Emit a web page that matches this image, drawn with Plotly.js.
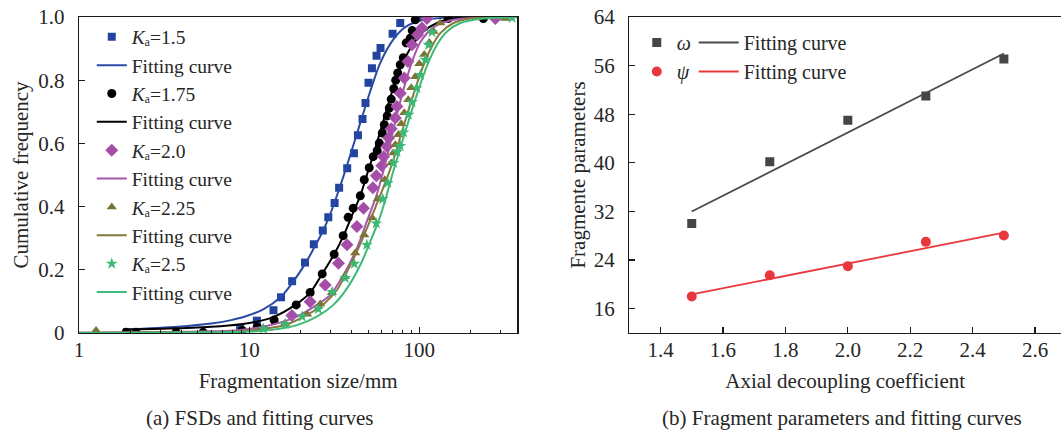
<!DOCTYPE html>
<html><head><meta charset="utf-8">
<script src="https://cdn.plot.ly/plotly-3.0.1.min.js"></script>
<style>html,body{margin:0;padding:0;background:#fff}#chart{width:1061px;height:432px}</style>
</head><body><div id="chart"></div>
<script>
// ---------- Panel (a): FSDs ----------
const ka15X = [8.85, 11.1, 13.9, 15.4, 17.9, 21.3, 24.0, 27.1, 29.2, 31.8, 33.8, 37.7, 41.3, 43.6, 46.4, 48.3, 50.3, 52.7, 56.1, 59.2, 69.7, 77.3, 101];
const ka15Y = [0.016, 0.039, 0.072, 0.113, 0.164, 0.223, 0.281, 0.324, 0.366, 0.411, 0.460, 0.521, 0.569, 0.626, 0.677, 0.728, 0.792, 0.838, 0.877, 0.902, 0.947, 0.981, 1.0];
const fit15X = [1.815, 3.82, 5.98, 7.73, 9.47, 12.1, 15.4, 17.9, 21.3, 24.0, 27.1, 29.9, 33.8, 37.6, 45.0, 51.5, 59.0, 70.6, 82.7, 106, 145.5, 199.5, 377];
const fit15Y = [0.011, 0.020, 0.030, 0.040, 0.052, 0.075, 0.115, 0.158, 0.218, 0.268, 0.322, 0.375, 0.455, 0.530, 0.665, 0.765, 0.855, 0.930, 0.968, 0.991, 0.998, 1.0, 1.0];

const ka175X = [1.89, 2.164, 3.721, 5.363, 9.10, 11.15, 14.03, 18.9, 22.85, 26.88, 31.6, 35.7, 38.2, 40.9, 45.0, 47.5, 50.8, 53.6, 56.6, 58.2, 60.6, 62.3, 64.8, 66.6, 68.4, 70.8, 72.7, 74.7, 77.3, 80.5, 83.8, 88.5, 90.9, 94.7, 148, 238];
const ka175Y = [0.002, 0.002, 0.002, 0.002, 0.008, 0.019, 0.041, 0.089, 0.128, 0.187, 0.249, 0.308, 0.366, 0.395, 0.434, 0.485, 0.523, 0.558, 0.577, 0.601, 0.633, 0.659, 0.687, 0.712, 0.740, 0.773, 0.800, 0.823, 0.849, 0.871, 0.918, 0.933, 0.957, 0.991, 0.995, 0.995];
const fit175X = [1.815, 3.43, 5.98, 8.97, 11.1, 14.09, 18.65, 22.85, 26.88, 31.6, 35.9, 41.1, 45.0, 49.2, 53.6, 56.6, 59.0, 73.9, 88.5, 106, 127, 159, 191, 377];
const fit175Y = [0.011, 0.014, 0.020, 0.028, 0.036, 0.052, 0.089, 0.128, 0.187, 0.249, 0.308, 0.384, 0.434, 0.500, 0.562, 0.605, 0.638, 0.810, 0.900, 0.954, 0.981, 0.995, 0.999, 1.0];

const ka20X = [17.83, 22.85, 28.0, 33.5, 37.6, 43.0, 47.0, 53.4, 55.9, 60.2, 61.7, 64.6, 66.0, 68.4, 72.3, 73.9, 77.3, 81.6, 85.8, 90.6, 97.7, 103.7, 111, 280];
const ka20Y = [0.055, 0.099, 0.152, 0.221, 0.279, 0.337, 0.395, 0.460, 0.498, 0.529, 0.558, 0.590, 0.617, 0.646, 0.680, 0.717, 0.759, 0.807, 0.859, 0.912, 0.944, 0.965, 0.995, 0.995];
const fit20X = [1.0, 2.617, 5.15, 7.73, 12.14, 19.08, 25.0, 29.96, 35.9, 43.0, 49.2, 56.4, 61.7, 67.5, 74.2, 82.7, 90.9, 101.4, 121.4, 145.5, 182, 228.5, 377];
const fit20Y = [0.001, 0.002, 0.005, 0.007, 0.020, 0.052, 0.089, 0.120, 0.184, 0.268, 0.353, 0.440, 0.515, 0.600, 0.695, 0.790, 0.860, 0.920, 0.968, 0.986, 0.995, 0.997, 1.0];

const ka225X = [1.259, 12.09, 16.28, 21.93, 26.16, 30.65, 36.5, 42.0, 47.5, 52.9, 57.0, 62.7, 68.4, 70.3, 72.3, 75.2, 78.4, 81.6, 86.2, 89.7, 94.7, 100, 107, 114.5, 121.4, 132.9, 320.5];
const ka225Y = [0.008, 0.015, 0.030, 0.059, 0.092, 0.127, 0.178, 0.253, 0.310, 0.364, 0.424, 0.485, 0.538, 0.570, 0.596, 0.627, 0.662, 0.697, 0.738, 0.776, 0.811, 0.852, 0.881, 0.919, 0.954, 0.981, 0.995];
const fit225X = [1.0, 2.617, 5.15, 7.73, 12.14, 16.67, 21.85, 27.36, 32.8, 37.6, 43.0, 49.2, 56.4, 64.6, 70.6, 84.7, 101.4, 116.1, 132.9, 159, 199.5, 261.6, 377];
const fit225Y = [0.001, 0.002, 0.003, 0.004, 0.013, 0.027, 0.057, 0.091, 0.136, 0.194, 0.258, 0.331, 0.410, 0.490, 0.550, 0.690, 0.820, 0.897, 0.949, 0.981, 0.995, 0.999, 1.0];

const ka25X = [12.14, 16.28, 20.5, 25.5, 30.8, 36.7, 41.5, 49.2, 55.9, 61.0, 65.3, 70.6, 73.9, 77.3, 80.8, 86.5, 90.6, 96.9, 101.4, 108.5, 113.4, 118.8, 351];
const ka25Y = [0.013, 0.028, 0.052, 0.076, 0.130, 0.174, 0.219, 0.279, 0.347, 0.424, 0.475, 0.538, 0.573, 0.592, 0.635, 0.691, 0.730, 0.775, 0.817, 0.865, 0.912, 0.952, 0.997];
const fit25X = [1.0, 2.617, 5.15, 7.73, 12.14, 19.08, 25.0, 31.3, 37.6, 45.0, 51.5, 59.0, 64.6, 70.6, 84.7, 96.9, 111, 127, 145.5, 174.3, 208.7, 261.6, 377];
const fit25Y = [0.0, 0.001, 0.002, 0.003, 0.007, 0.025, 0.052, 0.089, 0.141, 0.215, 0.289, 0.370, 0.440, 0.515, 0.655, 0.755, 0.845, 0.912, 0.954, 0.981, 0.991, 0.997, 0.999];

const seriesNames = ['<i>K</i>ₐ=1.5', '<i>K</i>ₐ=1.75', '<i>K</i>ₐ=2.0', '<i>K</i>ₐ=2.25', '<i>K</i>ₐ=2.5'];
const xTickVals = [1, 10, 100];
const xTickText = ['1', '10', '100'];
const xMinorVals = [2,3,4,5,6,7,8,9,20,30,40,50,60,70,80,90,200,300];
const yTickVals = [0, 0.2, 0.4, 0.6, 0.8, 1.0];
const yTickText = ['0', '0.2', '0.4', '0.6', '0.8', '1.0'];

// ---------- Panel (b): fragment parameters ----------
const coef = [1.5, 1.75, 2.0, 2.25, 2.5];
const omega = [30.0, 40.2, 47.0, 51.0, 57.1];
const psi = [18.0, 21.5, 23.0, 27.0, 28.05];
const fitCoef = [1.5, 2.5];
const omegaFit = [32.0, 58.0];
const psiFit = [18.35, 28.5];
const x2TickVals = [1.4, 1.6, 1.8, 2.0, 2.2, 2.4, 2.6];
const x2TickText = ['1.4', '1.6', '1.8', '2.0', '2.2', '2.4', '2.6'];
const y2TickVals = [16, 24, 32, 40, 48, 56, 64];

const FONT = 'Liberation Serif, Times New Roman, serif';
const TXT = '#262626';
const AX = '#1a1a1a';

function pts(x, y, name, sym, size, color) {
  return {x, y, name, type: 'scatter', mode: 'markers', xaxis: 'x', yaxis: 'y',
    marker: {symbol: sym, size, color, line: {width: 0}}, legend: 'legend'};
}
function fit(x, y, color) {
  return {x, y, name: 'Fitting curve', type: 'scatter', mode: 'lines', xaxis: 'x', yaxis: 'y',
    line: {color, width: 2, shape: 'spline', smoothing: 0.8}, legend: 'legend'};
}
const cBlue = '#2a4ba3', cMag = '#aa55ad', cOl = '#837a3c', cGr = '#3dba78';
const data = [
  pts(ka15X, ka15Y, seriesNames[0], 'square', 8, '#22449f'),
  fit(fit15X, fit15Y, cBlue),
  pts(ka175X, ka175Y, seriesNames[1], 'circle', 9, '#000000'),
  fit(fit175X, fit175Y, '#000000'),
  pts(ka20X, ka20Y, seriesNames[2], 'diamond', 10, '#a54ea8'),
  fit(fit20X, fit20Y, cMag),
  pts(ka225X, ka225Y, seriesNames[3], 'triangle-up', 9, '#7b7334'),
  fit(fit225X, fit225Y, cOl),
  pts(ka25X, ka25Y, seriesNames[4], 'star', 9, '#3cb875'),
  fit(fit25X, fit25Y, cGr),
  {x: coef, y: omega, name: '<i>ω</i>', type: 'scatter', mode: 'markers', xaxis: 'x2', yaxis: 'y2',
    marker: {symbol: 'square', size: 9, color: '#454545'}, legend: 'legend2'},
  {x: coef, y: psi, name: '<i>ψ</i>', type: 'scatter', mode: 'markers', xaxis: 'x2', yaxis: 'y2',
    marker: {symbol: 'circle', size: 10, color: '#e8383d'}, legend: 'legend2'},
  {x: fitCoef, y: omegaFit, name: 'Fitting curve', type: 'scatter', mode: 'lines', xaxis: 'x2', yaxis: 'y2',
    line: {color: '#4a4a4a', width: 1.8}, legend: 'legend3'},
  {x: fitCoef, y: psiFit, name: 'Fitting curve', type: 'scatter', mode: 'lines', xaxis: 'x2', yaxis: 'y2',
    line: {color: '#e8383d', width: 1.8}, legend: 'legend3'}
];

const axisBase = {showline: true, linecolor: AX, linewidth: 1.3, ticks: 'inside', ticklen: 6, tickwidth: 1.2,
  tickcolor: AX, showgrid: false, zeroline: false, tickfont: {size: 21, color: TXT, family: FONT}, automargin: false};

const legendBase = {bgcolor: 'rgba(0,0,0,0)', borderwidth: 0, font: {size: 20, color: TXT, family: FONT},
  xanchor: 'left', yanchor: 'top', tracegroupgap: 0, itemclick: false, itemdoubleclick: false};

const layout = {
  width: 1061, height: 432,
  margin: {l: 79, r: 0, t: 17, b: 99},
  paper_bgcolor: '#ffffff', plot_bgcolor: '#ffffff',
  font: {family: FONT, size: 21, color: TXT},
  showlegend: true,
  xaxis: Object.assign({}, axisBase, {
    type: 'log', domain: [0, 0.4463], range: [0, 2.576], anchor: 'y', mirror: true,
    tickmode: 'array', tickvals: xTickVals, ticktext: xTickText, ticklabelstandoff: -3,
    minor: {tickmode: 'array', tickvals: xMinorVals, ticks: 'inside', ticklen: 3.5, tickwidth: 1, tickcolor: AX, showgrid: false},
    title: {text: 'Fragmentation size/mm', standoff: 12, font: {size: 21, color: TXT, family: FONT}}
  }),
  yaxis: Object.assign({}, axisBase, {
    domain: [0, 1], range: [0, 1], anchor: 'x', mirror: true,
    tickmode: 'array', tickvals: yTickVals, ticktext: yTickText, ticklabelstandoff: 9,
    title: {text: 'Cumulative frequency', standoff: 4, font: {size: 21, color: TXT, family: FONT}}
  }),
  xaxis2: Object.assign({}, axisBase, {
    domain: [0.5604, 1], range: [1.3, 2.683], anchor: 'y2', mirror: true,
    tickmode: 'array', tickvals: x2TickVals, ticktext: x2TickText, ticklabelstandoff: -3,
    title: {text: 'Axial decoupling coefficient', standoff: 12, font: {size: 21, color: TXT, family: FONT}}
  }),
  yaxis2: Object.assign({}, axisBase, {
    domain: [0, 1], range: [12, 64], anchor: 'x2', mirror: false,
    tickmode: 'array', tickvals: y2TickVals, ticklabelstandoff: 9,
    title: {text: 'Fragmente parameters', standoff: 2, font: {size: 21, color: TXT, family: FONT}}
  }),
  legend: Object.assign({}, legendBase, {x: 0.013, y: 0.998, font: {size: 19.5, color: TXT, family: FONT}}),
  legend2: Object.assign({}, legendBase, {x: 0.568, y: 0.981}),
  legend3: Object.assign({}, legendBase, {x: 0.626, y: 0.981, itemwidth: 40}),
  annotations: [
    {text: '(a) FSDs and fitting curves', xref: 'paper', yref: 'paper', x: 0.1833, y: -0.269,
      xanchor: 'center', yanchor: 'middle', showarrow: false, font: {size: 21, color: TXT, family: FONT}},
    {text: '(b) Fragment parameters and fitting curves', xref: 'paper', yref: 'paper', x: 0.777, y: -0.269,
      xanchor: 'center', yanchor: 'middle', showarrow: false, font: {size: 21, color: TXT, family: FONT}}
  ]
};

Plotly.newPlot('chart', data, layout, {staticPlot: true, displayModeBar: false});
</script>
</body></html>
